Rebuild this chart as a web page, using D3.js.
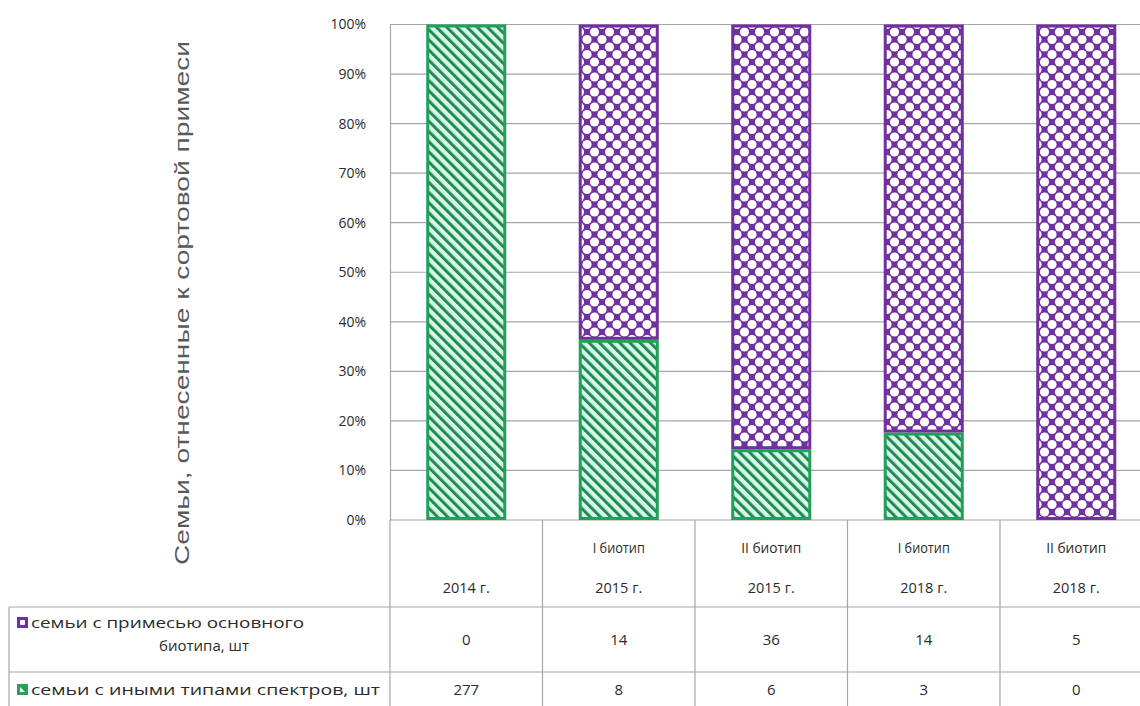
<!DOCTYPE html>
<html><head><meta charset="utf-8">
<script src="https://cdn.jsdelivr.net/npm/d3@7"></script>
<style>body{margin:0;background:#fff}svg{display:block}</style>
</head><body>
<svg id="chart" width="1140" height="706"></svg>
<script>
const categoryTop = ["", "I биотип", "II биотип", "I биотип", "II биотип"];
const categoryYear = ["2014 г.", "2015 г.", "2015 г.", "2018 г.", "2018 г."];
const seriesNames = ["семьи с примесью основного биотипа, шт", "семьи с иными типами спектров, шт"];
const mainBiotype = [0, 14, 36, 14, 5];
const otherSpectra = [277, 8, 6, 3, 0];
const yTicks = [0, 0.1, 0.2, 0.3, 0.4, 0.5, 0.6, 0.7, 0.8, 0.9, 1];
const yTitle = "Семьи, отнесенные к сортовой примеси";

(function () {
const svg = d3.select("#chart");
const font = "'Open Sans', 'Noto Sans', sans-serif";
const gridColor = "#a6a6a6";
const textColor = "#2b2b2b";
const purple = "#7030a0", greenLine = "#21a05c", greenStripe = "#1f8a55", greenBg = "#d8f7e7";

const plotLeft = 390, step = 152.5, plotTop = 24.5, plotBottom = 520;
const tableLeft = 9, row1 = 607, row2 = 672, tableBottom = 706;

const ids = categoryYear.map((d, i) => i);
const x = d3.scaleBand().domain(ids).range([plotLeft, plotLeft + step * ids.length]).paddingInner(0.475).paddingOuter(0.2375);
const y = d3.scaleLinear().domain([0, 1]).range([plotBottom, plotTop]);

// patterns
const defs = svg.append("defs");
const pg = defs.append("pattern").attr("id", "stripes").attr("patternUnits", "userSpaceOnUse")
  .attr("width", 7.2).attr("height", 7.2).attr("patternTransform", "rotate(-45)");
pg.append("rect").attr("width", 7.2).attr("height", 7.2).attr("fill", greenBg);
pg.append("rect").attr("width", 3.0).attr("height", 7.2).attr("fill", greenStripe);

const T = 15, rr = 4.6;
const pp = defs.append("pattern").attr("id", "diamonds").attr("patternUnits", "userSpaceOnUse")
  .attr("width", T).attr("height", T).attr("x", 2).attr("y", 2);
pp.append("rect").attr("width", T).attr("height", T).attr("fill", purple);
[[T/2,0],[0,T/2],[T,T/2],[T/2,T]].forEach(([cx, cy]) => {
  pp.append("circle").attr("cx", cx).attr("cy", cy).attr("r", rr).attr("fill", "#fff");
});

// gridlines
svg.append("g").selectAll("line").data(yTicks).join("line")
  .attr("x1", plotLeft).attr("x2", 1140).attr("y1", d => y(d)).attr("y2", d => y(d))
  .attr("stroke", gridColor).attr("stroke-width", 1.2);

// y axis
const yAxis = d3.axisLeft(y).tickValues(yTicks).tickFormat(d3.format(".0%")).tickSize(0).tickPadding(24);
const ya = svg.append("g").attr("transform", `translate(${plotLeft},0)`).call(yAxis);
ya.select(".domain").attr("stroke", gridColor).attr("stroke-width", 1.2);
ya.selectAll("text").attr("font-family", font).attr("font-size", 14).attr("fill", textColor);

// y title
svg.append("text").attr("transform", `translate(189,303) rotate(-90)`)
  .attr("text-anchor", "middle").attr("font-family", "'Liberation Sans', Arial, sans-serif")
  .attr("font-size", 21).attr("textLength", 524).attr("lengthAdjust", "spacingAndGlyphs")
  .attr("fill", "#595959").text(yTitle);

// stacked bars (100%)
const rows = ids.map(i => ({ i, other: otherSpectra[i], main: mainBiotype[i] }));
const stack = d3.stack().keys(["other", "main"]).offset(d3.stackOffsetExpand);
const layers = stack(rows);
const fills = { other: "url(#stripes)", main: "url(#diamonds)" };
const strokes = { other: greenLine, main: purple };
layers.forEach(layer => {
  svg.append("g").selectAll("rect").data(layer.filter(d => d[1] - d[0] > 0)).join("rect")
    .attr("x", d => x(d.data.i) + 1.5).attr("width", x.bandwidth() - 3)
    .attr("y", d => y(d[1]) + 1.5).attr("height", d => y(d[0]) - y(d[1]) - 3)
    .attr("fill", fills[layer.key]).attr("stroke", strokes[layer.key]).attr("stroke-width", 3);
});

// data table
const tg = svg.append("g").attr("stroke", gridColor).attr("stroke-width", 1.2);
const bounds = d3.range(ids.length + 1).map(k => plotLeft + step * k);
bounds.forEach(bx => tg.append("line").attr("x1", bx).attr("x2", bx).attr("y1", plotBottom).attr("y2", tableBottom));
tg.append("line").attr("x1", tableLeft).attr("x2", tableLeft).attr("y1", row1).attr("y2", tableBottom);
[row1, row2].forEach(ry => tg.append("line").attr("x1", tableLeft).attr("x2", 1140).attr("y1", ry).attr("y2", ry));

const cx = i => x(i) + x.bandwidth() / 2;
const txt = (xx, yy, s, anchor = "middle", size = 14.5) => svg.append("text").attr("x", xx).attr("y", yy)
  .attr("text-anchor", anchor).attr("font-family", font).attr("font-size", size).attr("fill", textColor).text(s);
ids.forEach(i => {
  if (categoryTop[i]) txt(cx(i), 553, categoryTop[i]).attr("textLength", categoryTop[i].length > 8 ? 60 : 52).attr("lengthAdjust", "spacingAndGlyphs");
  txt(cx(i), 593, categoryYear[i]);
  txt(cx(i), 645, mainBiotype[i], "middle", 15);
  txt(cx(i), 695, otherSpectra[i], "middle", 15);
});

// legend keys + series labels
const k1 = svg.append("g").attr("transform", "translate(17,617)");
k1.append("rect").attr("width", 11).attr("height", 11).attr("fill", purple);
k1.append("rect").attr("x", 3).attr("y", 3).attr("width", 5).attr("height", 5).attr("rx", 1).attr("fill", "#fff");
txt(31, 628, "семьи с примесью основного", "start", 15).attr("textLength", 273).attr("lengthAdjust", "spacingAndGlyphs");
txt(204, 651, "биотипа, шт", "middle", 15).attr("textLength", 90).attr("lengthAdjust", "spacingAndGlyphs");
const k2 = svg.append("g").attr("transform", "translate(17,684)");
k2.append("rect").attr("width", 11).attr("height", 11).attr("fill", "#22a35a");
k2.append("path").attr("d", "M3,3L3,8L8,8Z").attr("fill", "#fff");
txt(31, 695, seriesNames[1], "start", 15).attr("textLength", 349).attr("lengthAdjust", "spacingAndGlyphs");
})();
</script>
</body></html>
